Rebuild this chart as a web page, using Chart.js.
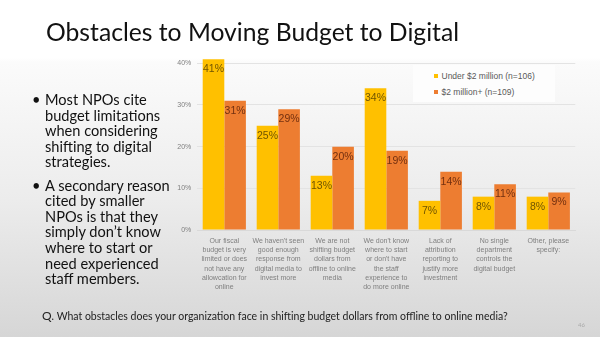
<!DOCTYPE html>
<html>
<head>
<meta charset="utf-8">
<script src="https://cdn.jsdelivr.net/npm/chart.js@4.4.1/dist/chart.umd.min.js"></script>
<style>
  html, body { margin: 0; padding: 0; }
  body {
    width: 600px; height: 337px; overflow: hidden; position: relative;
    background: linear-gradient(to bottom, #ffffff 0px, #ffffff 58px, #fbfbfb 62px, #ececec 200px, #d6d6d6 337px);
    font-family: Lato, "Open Sans", sans-serif;
  }
  #chart-wrap { position: absolute; left: 0; top: 0; width: 600px; height: 337px; }
  .title { position: absolute; left: 46px; top: 17px; font-size: 24.7px; color: #111; white-space: nowrap; }
  .bullets { position: absolute; left: 30px; top: 92px; width: 150px; font-size: 14.6px; line-height: 15.6px; color: #111; }
  .bullets p { margin: 0 0 7.6px 0; padding-left: 15px; position: relative; }
  .bullets p::before { content: "\2022"; position: absolute; left: 2px; }
  .question { position: absolute; left: 42px; top: 308px; font-size: 10.5px; color: #222; white-space: nowrap; }
  .question b { font-weight: normal; font-size: 12px; }
  .pagenum { position: absolute; left: 578px; top: 321px; font-size: 6px; color: #aaa; }
  .legend { position: absolute; left: 413px; top: 65px; width: 142px; height: 37px; background: #fdfdfd;
            font-family: "Liberation Sans", Arial, sans-serif; font-size: 8.5px; color: #595959; }
  .legend div { position: absolute; left: 21px; white-space: nowrap; line-height: 10px; }
  .legend span { display: inline-block; width: 4px; height: 4px; margin-right: 3.5px; vertical-align: 1px; }
</style>
</head>
<body>
<div id="chart-wrap"><canvas id="chart"></canvas></div>
<div class="title">Obstacles to Moving Budget to Digital</div>
<div class="bullets">
  <p>Most NPOs cite budget limitations when considering shifting to digital strategies.</p>
  <p>A secondary reason cited by smaller NPOs is that they simply don’t know where to start or need experienced staff members.</p>
</div>
<div class="legend" id="legend"></div>
<div class="question"><b>Q</b>. What obstacles does your organization face in shifting budget dollars from offline to online media?</div>
<div class="pagenum">46</div>

<script>
// ── Data ───────────────────────────────────────────────────────
const CATEGORIES = [
  ['Our fiscal', 'budget is very', 'limited or does', 'not have any', 'allowcation for', 'online'],
  ['We haven\'t seen', 'good enough', 'response from', 'digital media to', 'invest more'],
  ['We are not', 'shifting budget', 'dollars from', 'offline to online', 'media'],
  ['We don\'t know', 'where to start', 'or don\'t have', 'the staff', 'experience to', 'do more online'],
  ['Lack of', 'attribution', 'reporting to', 'justify more', 'investment'],
  ['No single', 'department', 'controls the', 'digital budget'],
  ['Other, please', 'specify:'],
];
const SERIES_NAMES = ['Under $2 million (n=106)', '$2 million+ (n=109)'];
const UNDER_2M     = [41, 25, 13, 34, 7, 8, 8];
const OVER_2M      = [31, 29, 20, 19, 14, 11, 9];
const Y_TICKS      = [0, 10, 20, 30, 40];

const COLORS       = ['#FFC000', '#ED7D31'];
const LABEL_COLORS = ['#705400', '#733010'];

// ── Legend (html) ──────────────────────────────────────────────
document.getElementById('legend').innerHTML = SERIES_NAMES.map((n, i) =>
  `<div style="top:${5.7 + i * 16.6}px"><span style="background:${COLORS[i]}"></span>${n}</div>`
).join('');

// ── Value labels inside bar tops ───────────────────────────────
const valueLabels = {
  id: 'valueLabels',
  afterDatasetsDraw(chart) {
    const ctx = chart.ctx;
    ctx.save();
    ctx.font = '10.5px "Liberation Sans", Arial, sans-serif';
    ctx.textAlign = 'center';
    ctx.textBaseline = 'middle';
    chart.data.datasets.forEach((ds, i) => {
      ctx.fillStyle = LABEL_COLORS[i];
      chart.getDatasetMeta(i).data.forEach((bar, j) => {
        ctx.fillText(ds.data[j] + '%', bar.x, bar.y + 10);
      });
    });
    ctx.restore();
  },
};

new Chart(document.getElementById('chart'), {
  type: 'bar',
  data: {
    labels: CATEGORIES,
    datasets: [
      { label: SERIES_NAMES[0], data: UNDER_2M, backgroundColor: COLORS[0], clip: false },
      { label: SERIES_NAMES[1], data: OVER_2M,  backgroundColor: COLORS[1], clip: false },
    ],
  },
  options: {
    responsive: true,
    maintainAspectRatio: false,
    animation: false,
    devicePixelRatio: 1,
    layout: { padding: { left: 160, top: 63.3, right: 24.7, bottom: 42 } },
    datasets: { bar: { categoryPercentage: 0.8, barPercentage: 1.0 } },
    plugins: { legend: { display: false }, tooltip: { enabled: false } },
    scales: {
      x: {
        grid: { display: false, drawTicks: false },
        border: { display: true, color: '#d9d9d9' },
        ticks: {
          maxRotation: 0, autoSkip: false, padding: 6,
          color: '#7f7f7f',
          font: { family: '"Liberation Sans", Arial, sans-serif', size: 7, lineHeight: 1.33 },
        },
        afterFit: s => { s.height = 337 - 42 - 230; },
      },
      y: {
        min: 0, max: 40,
        afterBuildTicks: s => { s.ticks = Y_TICKS.map(v => ({ value: v })); },
        grid: { color: '#e3e3e3', drawTicks: false },
        border: { display: false },
        ticks: {
          padding: 6, color: '#7f7f7f',
          font: { family: '"Liberation Sans", Arial, sans-serif', size: 7 },
          callback: v => v + '%',
        },
        afterFit: s => { s.width = 37.3; },
      },
    },
  },
  plugins: [valueLabels],
});
</script>
</body>
</html>
